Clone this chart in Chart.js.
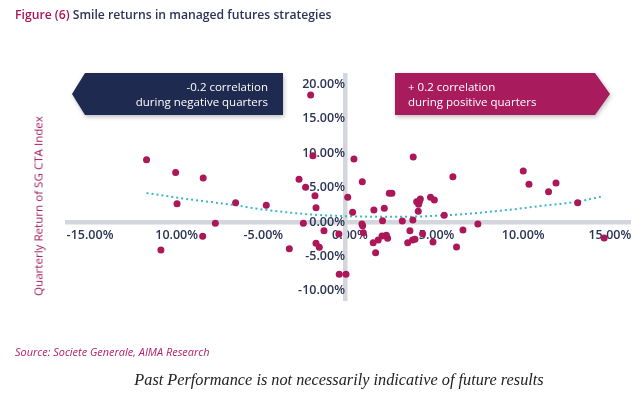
<!DOCTYPE html>
<html>
<head>
<meta charset="utf-8">
<script src="https://cdn.jsdelivr.net/npm/chart.js@4.4.1/dist/chart.umd.min.js"></script>
<style>
  html, body { margin: 0; padding: 0; background: #fff; }
  #wrap { position: relative; width: 644px; height: 398px; overflow: hidden; font-family: 'Open Sans', sans-serif; }
  #chartBox { position: absolute; left: 0; top: 0; width: 644px; height: 398px; }
  .title { position: absolute; left: 15px; top: 6px; font-size: 12.2px; font-weight: 600; color: #2b335a; white-space: nowrap; }
  .title span { color: #a8175a; }
  .arrows { position: absolute; left: 0; top: 0; filter: drop-shadow(1px 2px 2px rgba(0,0,0,0.25)); }
  .arrow { position: absolute; top: 73px; height: 42px; color: #fff; font-size: 11.5px; line-height: 15px; box-sizing: border-box; padding-top: 6px; white-space: nowrap; }
  .neg { left: 72px; width: 211px; background: #1e2a4f; text-align: right; padding-right: 15px;
         clip-path: polygon(13px 0, 100% 0, 100% 100%, 13px 100%, 0 50%); }
  .pos { left: 395px; width: 215px; background: #a81b5d; text-align: left; padding-left: 13px;
         clip-path: polygon(0 0, calc(100% - 15px) 0, 100% 50%, calc(100% - 15px) 100%, 0 100%); }
  .ytitle { position: absolute; left: 38px; top: 206px; transform: translate(-50%, -50%) rotate(-90deg); font-size: 11.6px; color: #a0195b; white-space: nowrap; }
  .source { position: absolute; left: 15px; top: 344px; font-size: 11.5px; font-style: italic; color: #b3226a; white-space: nowrap; transform: scaleX(0.95); transform-origin: left center; }
  .note { position: absolute; left: 0; width: 678px; top: 370px; text-align: center; font-family: 'Liberation Serif', serif; font-style: italic; font-size: 16.3px; color: #222; white-space: nowrap; }
</style>
</head>
<body>
<div id="wrap">
  <div id="chartBox"><canvas id="smileChart"></canvas></div>
  <div class="title"><span>Figure (6)</span> Smile returns in managed futures strategies</div>
  <div class="arrows">
    <div class="arrow neg">-0.2 correlation<br>during negative quarters</div>
    <div class="arrow pos">+ 0.2 correlation<br>during positive quarters</div>
  </div>
  <div class="ytitle">Quarterly Return of SG CTA Index</div>
  <div class="source">Source: Societe Generale, AIMA Research</div>
  <div class="note">Past Performance is not necessarily indicative of future results</div>
</div>
<script>
// axis ticks
const xTicks = [-15, -10, -5, 0, 5, 10, 15];
const xTickLabels = ['-15.00%', '10.00%', '-5.00%', '0.00%', '5.00%', '10.00%', '15.00%'];
const yTicks = [-10, -5, 0, 5, 10, 15, 20];
const yTickLabels = ['-10.00%', '-5.00%', '0.00%', '5.00%', '10.00%', '15.00%', '20.00%'];

// quarterly returns (%): market on x, SG CTA index on y
const marketReturn = [-11.45, -9.77, -8.18, -9.69, -6.31, -4.54, -7.48, -8.21, -10.62, -3.21,
  -2.4, -2.65, -2.27, -1.73, -1.67, -1.85, -1.98, -1.21, -1.67, -1.48,
  -0.33, 0.06, -0.35, 0.16, 0.52, 1.0, 0.44, 0.98, 1.02, 1.06,
  1.67, 1.63, 1.92, 1.77, 2.27, 2.56, 2.71, 2.17, 2.14, 2.39,
  2.46, 3.94, 3.31, 3.92, 3.75, 3.62, 3.9, 4.04, 4.14, 4.29,
  4.35, 4.25, 4.23, 4.48, 4.94, 5.16, 5.08, 5.73, 6.23, 6.81,
  6.44, 7.67, 10.29, 10.62, 11.75, 12.18, 13.43, 14.96];
const ctaReturn = [9.05, 7.2, 6.39, 2.66, 2.8, 2.42, -0.2, -2.08, -4.07, -3.87,
  -0.2, 6.2, 5.04, 3.82, 2.08, 9.63, 18.45, -1.26, -3.1, -3.68,
  -7.6, -7.6, -1.75, 3.59, 9.15, 5.85, 1.41, -0.3, -0.55, -1.55,
  1.74, -3.0, -2.6, -4.45, 1.99, 4.17, 4.17, 0.19, -2.03, -1.93,
  -2.37, 9.44, 0.14, 0.29, -1.26, -3.0, -2.61, -2.51, 2.95, 2.95,
  3.34, 2.57, 1.55, -1.7, 3.59, 3.2, -2.9, 0.97, 6.58, -1.16,
  -3.63, -0.29, 7.41, 5.47, 4.4, 5.66, 2.8, -2.32];

// polynomial trendline
const trendX = [-11.45, -9, -6.5, -4.7, -2, 0, 3, 6, 9.2, 11.7, 13.4, 14.9];
const trendY = [4.2, 3.3, 2.5, 1.8, 1.1, 0.85, 0.75, 1.0, 1.7, 2.45, 2.95, 3.75];

document.addEventListener('DOMContentLoaded', function () {
    Chart.defaults.font.family = "'Open Sans', sans-serif";
    const axisGrey = '#d3d6dc';
    const tickFont = { size: 12.5, weight: 600 };

    const ctx = document.getElementById('smileChart').getContext('2d');
    new Chart(ctx, {
        type: 'scatter',
        data: {
            datasets: [{
                label: 'Quarters',
                data: marketReturn.map((x, i) => ({ x: x, y: ctaReturn[i] })),
                backgroundColor: '#ab1759',
                borderWidth: 0,
                pointRadius: 3.5,
                order: 1
            }, {
                label: 'Trend',
                data: trendX.map((x, i) => ({ x: x, y: trendY[i] })),
                showLine: true,
                borderColor: '#3db6c8',
                borderWidth: 2,
                borderDash: [2, 3],
                pointRadius: 0,
                cubicInterpolationMode: 'monotone',
                order: 2
            }]
        },
        options: {
            responsive: true,
            maintainAspectRatio: false,
            animation: false,
            layout: { padding: { left: 67, right: 14, top: 75, bottom: 98 } },
            scales: {
                x: {
                    type: 'linear',
                    position: { y: 0 },
                    min: -16.04,
                    max: 16.45,
                    grid: { display: false, drawTicks: false },
                    border: { display: true, color: axisGrey, width: 4.5 },
                    afterBuildTicks: s => { s.ticks = xTicks.map(v => ({ value: v })); },
                    ticks: {
                        font: tickFont,
                        color: '#2a3454',
                        padding: 6,
                        labelOffset: 5,
                        maxRotation: 0,
                        callback: v => xTickLabels[xTicks.indexOf(v)]
                    }
                },
                y: {
                    type: 'linear',
                    position: { x: 0 },
                    min: -11.33,
                    max: 21.35,
                    grid: { display: false, drawTicks: false },
                    border: { display: true, color: axisGrey, width: 4.5 },
                    afterBuildTicks: s => { s.ticks = yTicks.map(v => ({ value: v })); },
                    ticks: {
                        font: tickFont,
                        color: '#2a3454',
                        padding: 3,
                        callback: v => yTickLabels[yTicks.indexOf(v)]
                    }
                }
            },
            plugins: {
                legend: { display: false },
                tooltip: { enabled: false }
            }
        }
    });
});
</script>
</body>
</html>
